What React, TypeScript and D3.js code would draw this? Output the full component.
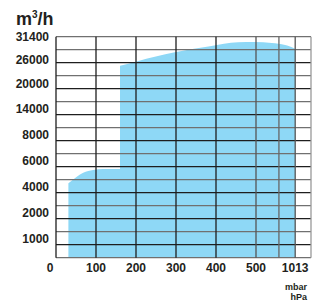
import { useEffect, useRef } from "react";
import * as d3 from "d3";

// axis ticks (the chart uses an uneven scale on both axes)
const xTicks = [0, 100, 200, 300, 400, 500, 1013];
const xExtraGrid = [800];
const yTicks = [0, 1000, 2000, 4000, 6000, 8000, 14000, 20000, 26000, 31400];

// low-flow curve (left part)
const lowPressure = [31, 52, 68, 93, 118, 160];
const lowFlow = [4220, 4730, 5040, 5250, 5320, 5330];

// high-flow curve (right part)
const highPressure = [160, 202, 297, 385, 455, 497, 706, 881, 990, 1013];
const highFlow = [24460, 25650, 27785, 29175, 30100, 30170, 29940, 29480, 28780, 28550];

const W = 322;
const H = 305;
const margin = { left: 56, top: 36.7, right: 11, bottom: 47.3 };
const FONT = "'Liberation Sans Narrow', 'Liberation Sans', Arial, sans-serif";
const INK = "#231f20";

export default function App() {
  const svgRef = useRef<SVGSVGElement>(null);

  useEffect(() => {
    const svg = d3.select(svgRef.current);
    svg.selectAll("*").remove();

    const left = margin.left;
    const top = margin.top;
    const right = W - margin.right;
    const bottom = H - margin.bottom;
    const rowStep = (bottom - top) / 17;

    // piecewise scales: slots measured in grid cells
    const xSlots = [0, 1, 2, 3, 4, 5, 5.98];
    const x = d3
      .scaleLinear()
      .domain(xTicks)
      .range(xSlots.map((s) => left + s * 40));

    const ySlots = [0, 1.5, 3.5, 5.5, 7.5, 9.5, 11.5, 13.5, 15.2, 17];
    const y = d3
      .scaleLinear()
      .domain(yTicks)
      .range(ySlots.map((s) => bottom - s * rowStep));

    const g = svg.append("g");

    // filled areas
    const area = d3
      .area<[number, number]>()
      .x((d) => x(d[0]))
      .y0(y(0))
      .y1((d) => y(d[1]))
      .curve(d3.curveMonotoneX);

    g.append("path")
      .datum(lowPressure.map((p, i) => [p, lowFlow[i]] as [number, number]))
      .attr("d", area)
      .attr("fill", "#8ed8f6");

    g.append("path")
      .datum(highPressure.map((p, i) => [p, highFlow[i]] as [number, number]))
      .attr("d", area)
      .attr("fill", "#8ed8f6");

    // horizontal grid lines, alternating dark / gray
    g.selectAll("line.h")
      .data(d3.range(18))
      .join("line")
      .attr("class", "h")
      .attr("x1", left)
      .attr("x2", right)
      .attr("y1", (i) => top + i * rowStep)
      .attr("y2", (i) => top + i * rowStep)
      .attr("stroke", (i) => (i % 2 === 0 && i > 0 ? "#1e1e1e" : "#707070"))
      .attr("stroke-width", 1.3);

    // vertical grid lines
    const vLines = [
      ...xTicks.map((v) => ({ px: x(v), c: v <= 400 ? "#1e1e1e" : "#555" })),
      ...xExtraGrid.map((v) => ({ px: x(v), c: "#666" })),
      { px: right, c: "#999" },
    ];
    g.selectAll("line.v")
      .data(vLines)
      .join("line")
      .attr("class", "v")
      .attr("x1", (d) => d.px)
      .attr("x2", (d) => d.px)
      .attr("y1", top)
      .attr("y2", bottom)
      .attr("stroke", (d) => d.c)
      .attr("stroke-width", 1.3);

    // y labels
    g.selectAll("text.yl")
      .data(yTicks.filter((v) => v > 0))
      .join("text")
      .attr("class", "yl")
      .attr("x", left - 7)
      .attr("y", (d) => y(d) + (d === 20000 ? 1 : 0))
      .attr("dy", "0.36em")
      .attr("text-anchor", "end")
      .attr("font-family", FONT)
      .attr("font-weight", "bold")
      .attr("font-size", 12)
      .attr("fill", INK)
      .text((d) => d);

    // x labels
    g.selectAll("text.xl")
      .data(xTicks)
      .join("text")
      .attr("class", "xl")
      .attr("x", (d) => (d === 0 ? x(d) - 6 : x(d)))
      .attr("y", bottom + 10)
      .attr("dy", "0.36em")
      .attr("text-anchor", "middle")
      .attr("font-family", FONT)
      .attr("font-weight", "bold")
      .attr("font-size", 12)
      .attr("fill", INK)
      .text((d) => d);

    // unit labels
    g.append("text")
      .attr("x", 307)
      .attr("y", 286.5)
      .attr("dy", "0.36em")
      .attr("text-anchor", "end")
      .attr("font-family", FONT)
      .attr("font-weight", "bold")
      .attr("font-size", 9)
      .attr("fill", INK)
      .text("mbar");
    g.append("text")
      .attr("x", 307)
      .attr("y", 296.5)
      .attr("dy", "0.36em")
      .attr("text-anchor", "end")
      .attr("font-family", FONT)
      .attr("font-weight", "bold")
      .attr("font-size", 9)
      .attr("fill", INK)
      .text("hPa");

    const unit = g
      .append("text")
      .attr("x", 16)
      .attr("y", 25)
      .attr("font-family", FONT)
      .attr("font-weight", "bold")
      .attr("font-size", 18)
      .attr("fill", INK);
    unit.append("tspan").text("m");
    unit.append("tspan").attr("font-size", 10).attr("dy", -7).text("3");
    unit.append("tspan").attr("dy", 7).text("/h");
  }, []);

  return (
    <svg
      ref={svgRef}
      width={W}
      height={H}
      style={{ position: "absolute", left: 0, top: 0, background: "#fff" }}
    />
  );
}
